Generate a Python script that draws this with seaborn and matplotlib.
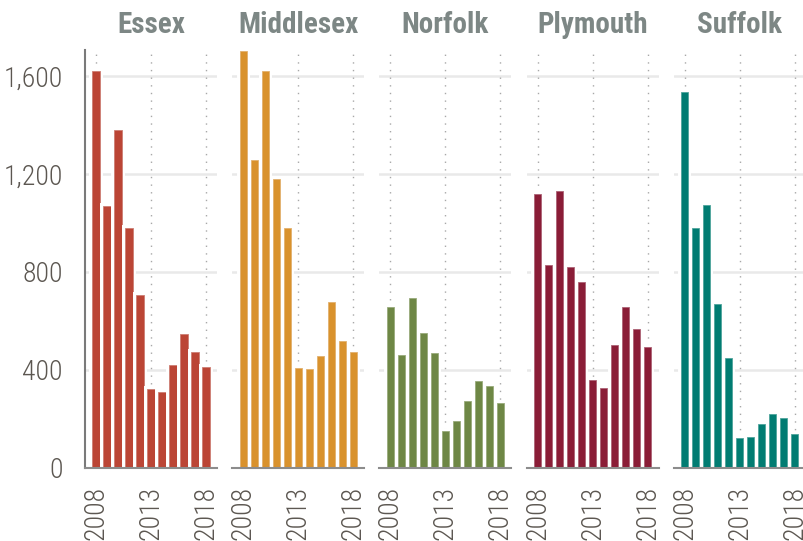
import matplotlib
matplotlib.use("Agg")
import matplotlib.pyplot as plt
import matplotlib.patheffects as pe
from matplotlib.ticker import FuncFormatter
import seaborn as sns
import pandas as pd

sns.set_style("white")
plt.rcParams["font.family"] = ["Roboto Condensed", "Archivo Narrow", "Barlow Condensed",
                               "DejaVu Sans"]

years = [2008, 2009, 2010, 2011, 2012, 2013, 2014, 2015, 2016, 2017, 2018]
counties = ["Essex", "Middlesex", "Norfolk", "Plymouth", "Suffolk"]

essex = [1620, 1070, 1380, 978, 704, 322, 308, 422, 547, 474, 411]
middlesex = [1700, 1258, 1620, 1178, 977, 408, 403, 456, 676, 520, 475]
norfolk = [658, 460, 692, 551, 469, 151, 192, 274, 355, 333, 266]
plymouth = [1118, 830, 1130, 818, 759, 357, 326, 503, 658, 566, 492]
suffolk = [1532, 979, 1071, 668, 447, 123, 128, 179, 222, 202, 139]

colors = ["#bb4535", "#d9922d", "#6e8745", "#8a1d37", "#017c72"]

series = [essex, middlesex, norfolk, plymouth, suffolk]
df = pd.concat(
    [pd.DataFrame({"county": c, "year": years, "value": v}) for c, v in zip(counties, series)],
    ignore_index=True,
)

y_ticks = [0, 400, 800, 1200, 1600]
x_ticks = [2008, 2013, 2018]

W, H = 804, 541
fig = plt.figure(figsize=(W / 100, H / 100), dpi=100)

panel_left = 85
panel_step = 147.2
panel_w = 132
panel_bottom = 73
panel_h = 418

title_color = "#7d8785"
tick_color = "#5c5751"
spine_color = "#8c8c8c"

for i, (county, color) in enumerate(zip(counties, colors)):
    ax = fig.add_axes([(panel_left + i * panel_step) / W, panel_bottom / H,
                       panel_w / W, panel_h / H])
    sub = df[df["county"] == county]
    sns.barplot(data=sub, x="year", y="value", native_scale=True, color=color,
                saturation=1, width=0.65, ax=ax, zorder=3)
    for p in ax.patches:
        p.set_edgecolor(sns.light_palette(color, 4)[2])
        p.set_linewidth(0.6)
        p.set_path_effects([pe.withStroke(linewidth=4.3, foreground="white")])

    ax.set_xlim(2007, 2019)
    ax.set_ylim(0, 1705)
    ax.set_axisbelow(True)

    for yv in y_ticks[1:]:
        ax.axhline(yv, color="#e9e9e9", lw=1.8, zorder=0.5)
    for xv in x_ticks:
        ax.axvline(xv, color="#a8a8a8", lw=1.0, ls=(0, (1, 4.5)), zorder=0.6)

    ax.set_xticks(x_ticks)
    ax.set_xticklabels([str(x) for x in x_ticks], rotation=90, fontsize=20,
                       color=tick_color, fontweight="light")
    ax.tick_params(axis="x", length=5, width=1.3, color=spine_color, pad=8)
    ax.set_yticks(y_ticks)
    if i == 0:
        ax.yaxis.set_major_formatter(FuncFormatter(lambda v, _: f"{int(v):,}"))
        ax.tick_params(axis="y", length=0, pad=16, labelsize=20, labelcolor=tick_color)
        for lbl in ax.get_yticklabels():
            lbl.set_fontweight("light")
    else:
        ax.tick_params(axis="y", length=0, labelleft=False)

    ax.set_xlabel("")
    ax.set_ylabel("")
    for s in ["top", "right"]:
        ax.spines[s].set_visible(False)
    ax.spines["left"].set_visible(i == 0)
    ax.spines["left"].set_color("#7a7a7a")
    ax.spines["left"].set_linewidth(1.5)
    ax.spines["bottom"].set_color(spine_color)
    ax.spines["bottom"].set_linewidth(1.5)
    for s in ax.spines.values():
        s.set_zorder(5)

    ax.set_title(county, fontsize=21, fontweight="bold", color=title_color, pad=12)

fig.savefig("out.png", dpi=100)
